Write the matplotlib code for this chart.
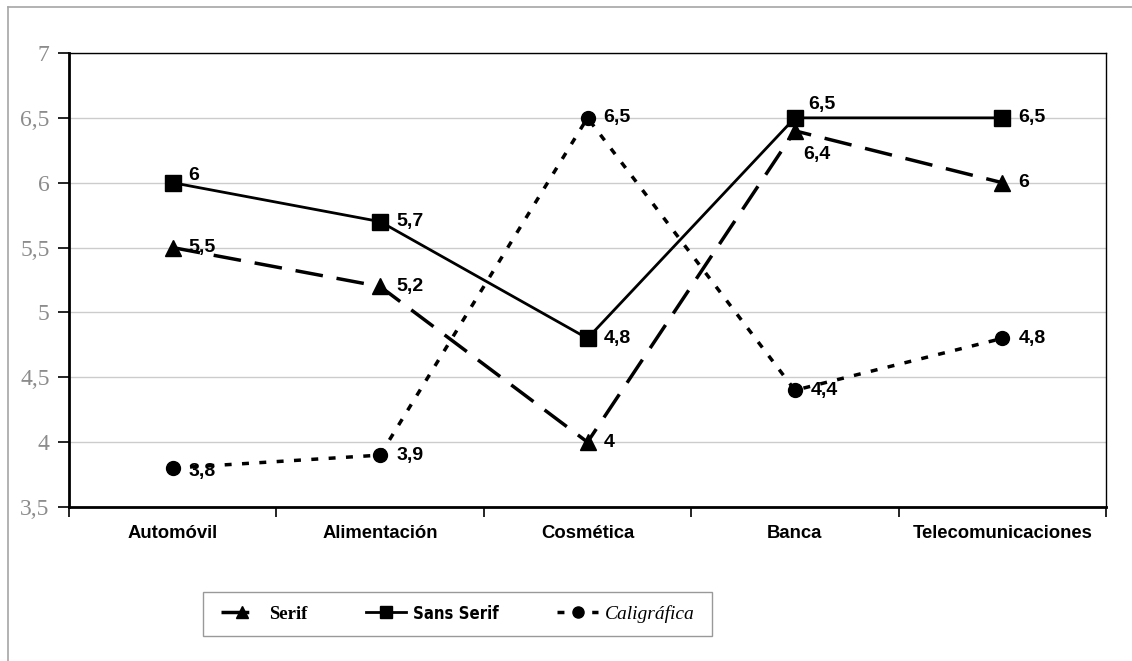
import matplotlib.pyplot as plt
from matplotlib.lines import Line2D
from matplotlib.patches import Rectangle
from matplotlib.ticker import FixedLocator

# --- Data ---
categories = ['Automóvil', 'Alimentación', 'Cosmética', 'Banca', 'Telecomunicaciones']
serif = [5.5, 5.2, 4.0, 6.4, 6.0]
sans_serif = [6.0, 5.7, 4.8, 6.5, 6.5]
caligrafica = [3.8, 3.9, 6.5, 4.4, 4.8]
y_ticks = [3.5, 4, 4.5, 5, 5.5, 6, 6.5, 7]

# label offsets in pixels (right of the marker unless moved)
serif_off = [(16, 0), (16, 0), (16, 0), (8, -24), (16, 0)]
sans_off = [(16, 7), (16, 0), (16, 0), (13, 13), (16, 0)]
cal_off = [(16, -3), (16, 0), (16, 0), (16, 0), (16, 0)]


def fmt(v):
    s = f'{v:g}'
    return s.replace('.', ',')


fig = plt.figure(figsize=(11.32, 6.61), dpi=100)
ax = fig.add_axes([69/1132, 1-507/661, (1106-69)/1132, (507-53)/661])

x = list(range(len(categories)))
ax.plot(x, serif, color='black', lw=2.5, dashes=(8, 4), marker='^', ms=11,
        label='Serif', zorder=3)
ax.plot(x, sans_serif, color='black', lw=2, marker='s', ms=11,
        label='Sans Serif', zorder=3)
ax.plot(x, caligrafica, color='black', lw=2.5, dashes=(2, 3), marker='o', ms=10,
        label='Caligráfica', zorder=3)

for vals, offs in [(serif, serif_off), (sans_serif, sans_off), (caligrafica, cal_off)]:
    for xi, v, off in zip(x, vals, offs):
        ax.annotate(fmt(v), (xi, v), xytext=off, textcoords='offset pixels',
                    ha='left', va='center', fontsize=14, fontweight='bold',
                    family='Liberation Sans', zorder=4)

ax.set_xlim(-0.5, len(categories) - 0.5)
ax.set_ylim(3.5, 7)
ax.set_yticks(y_ticks)
ax.set_yticklabels([fmt(v) for v in y_ticks], family='Liberation Serif',
                   fontsize=17, color='#8c8c8c')
ax.set_xticks(x)
ax.set_xticklabels(categories, fontsize=13.3, fontweight='bold',
                   family='Liberation Sans')
ax.xaxis.set_minor_locator(FixedLocator([i - 0.5 for i in range(len(categories) + 1)]))
ax.tick_params(axis='x', which='major', length=0, pad=13)
ax.tick_params(axis='x', which='minor', length=7, width=1.2, direction='out')
ax.tick_params(axis='y', length=8, width=1.2, direction='out', pad=6)

ax.grid(axis='y', color='#cccccc', lw=1)
ax.set_axisbelow(True)
for side in ['left', 'bottom']:
    ax.spines[side].set_linewidth(2)
for side in ['top', 'right']:
    ax.spines[side].set_linewidth(1)

# outer chart frame (top and left edges)
fig.add_artist(Line2D([8/1132, 1], [1-7/661, 1-7/661], color='#a6a6a6', lw=1.2))
fig.add_artist(Line2D([8/1132, 8/1132], [0, 1-7/661], color='#a6a6a6', lw=1.2))

# legend box
fig.add_artist(Rectangle((203/1132, 1-636/661), (712-203)/1132, 44/661,
                         transform=fig.transFigure, fill=False,
                         edgecolor='#999999', lw=1))
leg = fig.legend(loc='center', bbox_to_anchor=(458/1132, 1-614/661), ncol=3,
                 frameon=False, handlelength=2.1, columnspacing=3.0,
                 handletextpad=0.35, fontsize=14)
for h in leg.legend_handles:
    h.set_markersize(8)
texts = leg.get_texts()
texts[0].set_fontfamily(['Liberation Serif', 'DejaVu Serif'])
texts[0].set_fontweight('bold')
texts[0].set_fontsize(13.5)
texts[1].set_fontfamily(['DejaVu Sans'])
texts[1].set_fontstretch('condensed')
texts[1].set_fontweight('bold')
texts[1].set_fontsize(12)
texts[2].set_fontfamily(['Liberation Serif', 'DejaVu Serif'])
texts[2].set_fontstyle('italic')

fig.savefig('out.png', dpi=100)
